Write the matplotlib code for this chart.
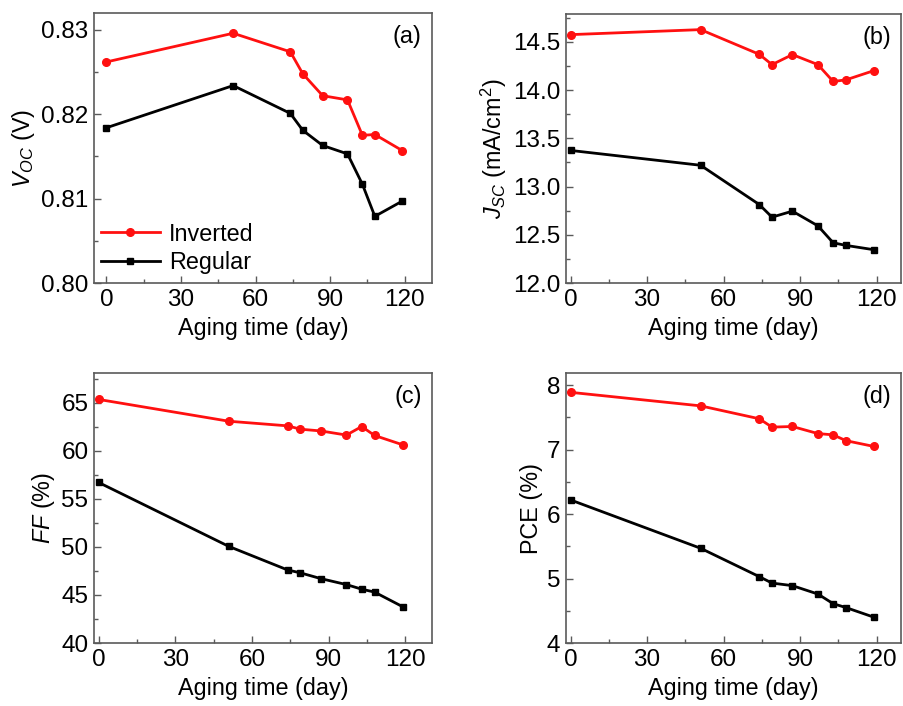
import matplotlib
matplotlib.use("Agg")
import matplotlib.pyplot as plt
from matplotlib.ticker import MultipleLocator

plt.rcParams['font.family'] = ['Liberation Sans', 'DejaVu Sans']
plt.rcParams['mathtext.fontset'] = 'custom'
plt.rcParams['mathtext.rm'] = 'Liberation Sans'
plt.rcParams['mathtext.it'] = 'Liberation Sans:italic'

days = [0, 51, 74, 79, 87, 97, 103, 108, 119]

voc_inverted = [0.8262, 0.8296, 0.8274, 0.8248, 0.8222, 0.8217, 0.8175, 0.8176, 0.8157]
voc_regular = [0.8184, 0.8234, 0.8201, 0.8181, 0.8163, 0.8153, 0.8117, 0.8079, 0.8097]

jsc_inverted = [14.576, 14.628, 14.372, 14.265, 14.369, 14.265, 14.09, 14.107, 14.203]
jsc_regular = [13.375, 13.221, 12.814, 12.683, 12.745, 12.593, 12.417, 12.39, 12.345]

ff_inverted = [65.35, 63.08, 62.6, 62.25, 62.07, 61.64, 62.53, 61.6, 60.63]
ff_regular = [56.71, 50.05, 47.6, 47.3, 46.7, 46.08, 45.6, 45.3, 43.78]

pce_inverted = [7.89, 7.68, 7.48, 7.35, 7.36, 7.25, 7.23, 7.14, 7.05]
pce_regular = [6.22, 5.47, 5.03, 4.93, 4.89, 4.76, 4.61, 4.55, 4.40]

W, H = 904, 706
fig = plt.figure(figsize=(W / 100, H / 100), dpi=100)

def make_ax(l, r, t, b):
    return fig.add_axes([l / W, 1 - b / H, (r - l) / W, (b - t) / H])

axes = [
    make_ax(94, 432, 13, 283),
    make_ax(566, 901, 14, 283),
    make_ax(94, 432, 373, 643),
    make_ax(566, 901, 373, 643),
]

panels = [
    (voc_inverted, voc_regular, (0.80, 0.832), 0.01, 0.005, r'$V_{OC}$ (V)', '(a)', (-5, 131), '{:.2f}'),
    (jsc_inverted, jsc_regular, (12.0, 14.79), 0.5, 0.25, r'$J_{SC}$ (mA/cm$^2$)', '(b)', (-1.8, 129.6), '{:.1f}'),
    (ff_inverted, ff_regular, (40, 68.1), 5, 2.5, r'$FF$ (%)', '(c)', (-1.8, 130.5), '{:.0f}'),
    (pce_inverted, pce_regular, (4, 8.19), 1, 0.5, 'PCE (%)', '(d)', (-1.8, 129.6), '{:.0f}'),
]

TICK_FS = 17.5
LABEL_FS = 16.8
spine_color = '#5a5a5a'
for ax, (inv, reg, ylim, major, minor, ylabel, tag, xlim, fmt) in zip(axes, panels):
    ax.plot(days, inv, color='#ff1010', lw=2, marker='o', ms=5.5, label='Inverted')
    ax.plot(days, reg, color='black', lw=2, marker='s', ms=5, label='Regular')
    ax.set_xlim(*xlim)
    ax.set_ylim(*ylim)
    ax.xaxis.set_major_locator(MultipleLocator(30))
    ax.xaxis.set_minor_locator(MultipleLocator(15))
    ax.yaxis.set_major_locator(MultipleLocator(major))
    ax.yaxis.set_minor_locator(MultipleLocator(minor))
    ax.yaxis.set_major_formatter(matplotlib.ticker.FuncFormatter(lambda v, p, f=fmt: f.format(v)))
    ax.tick_params(which='both', direction='in', top=False, right=False,
                   color=spine_color, labelsize=TICK_FS, pad=4)
    ax.tick_params(which='major', length=5, width=1)
    ax.tick_params(which='minor', length=3, width=1)
    for s in ax.spines.values():
        s.set_color(spine_color)
        s.set_linewidth(1.2)
    ax.set_xlabel('Aging time (day)', fontsize=LABEL_FS, labelpad=5)
    ax.set_ylabel(ylabel, fontsize=LABEL_FS, labelpad=3)
    ax.text(0.97, 0.955, tag, transform=ax.transAxes, ha='right', va='top', fontsize=LABEL_FS)

leg = axes[0].legend(loc='lower left', bbox_to_anchor=(-0.02, -0.02), frameon=False,
                     fontsize=LABEL_FS, handlelength=2.5, handletextpad=0.4, labelspacing=0.25,
                     borderaxespad=0.2)

fig.savefig('out.png', dpi=100)
